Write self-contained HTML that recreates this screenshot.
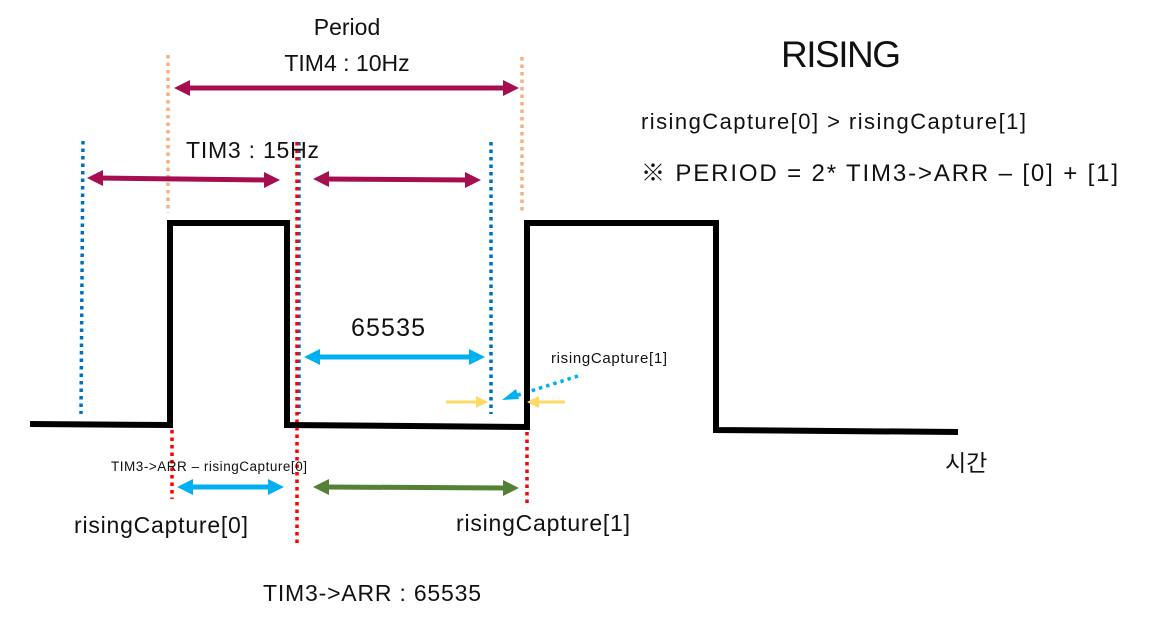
<!DOCTYPE html>
<html><head><meta charset="utf-8"><style>
html,body{margin:0;padding:0;background:#fff;width:1152px;height:624px;overflow:hidden}
svg{display:block}
text{font-family:"Liberation Sans","Noto Sans CJK KR",sans-serif;fill:#111}
</style></head><body>
<svg width="1152" height="624" viewBox="0 0 1152 624" xmlns="http://www.w3.org/2000/svg">
<g fill="none" stroke-width="3.5" stroke-dasharray="3.5 4">
<line x1="168" y1="55" x2="168" y2="213" stroke="#f4b183"/>
<line x1="522" y1="57" x2="522" y2="213" stroke="#f4b183"/>
<line x1="83" y1="141" x2="81" y2="414" stroke="#0070c0"/>
<line x1="299" y1="142" x2="299" y2="414" stroke="#0070c0"/>
<line x1="491" y1="142" x2="491" y2="414" stroke="#0070c0"/>
<line x1="297" y1="142" x2="297" y2="546" stroke="#ff0000"/>
<line x1="172" y1="430" x2="172" y2="499" stroke="#ff0000"/>
<line x1="527" y1="432" x2="527" y2="503" stroke="#ff0000"/>
<line x1="578" y1="376" x2="515" y2="396" stroke="#00b0f0"/>
</g>
<polygon points="502,400 516,389 519,399" fill="#00b0f0"/>
<polyline points="30,424 170,425 170,223 287,223 287,425 527,427 527,223 716,223 716,430 958,432" fill="none" stroke="#000" stroke-width="6" stroke-linejoin="miter"/>
<g fill="#a50f4f" stroke="#a50f4f">
<line x1="185" y1="88" x2="508" y2="88" stroke-width="5"/>
<polygon points="174,88 190,80 190,96" stroke="none"/>
<polygon points="519,88 503,80 503,96" stroke="none"/>
<line x1="98" y1="178" x2="268" y2="180" stroke-width="5"/>
<polygon points="87,178 103,170 103,186" stroke="none"/>
<polygon points="280,180 264,172 264,188" stroke="none"/>
<line x1="325" y1="179" x2="470" y2="180" stroke-width="5"/>
<polygon points="313,179 329,171 329,187" stroke="none"/>
<polygon points="481,180 465,172 465,188" stroke="none"/>
</g>
<g fill="#00b0f0" stroke="#00b0f0">
<line x1="315" y1="357" x2="472" y2="357" stroke-width="5"/>
<polygon points="304,357 320,349 320,365" stroke="none"/>
<polygon points="485,357 469,349 469,365" stroke="none"/>
<line x1="190" y1="487" x2="272" y2="487" stroke-width="5"/>
<polygon points="177,487 193,479 193,495" stroke="none"/>
<polygon points="284,487 268,479 268,495" stroke="none"/>
</g>
<g fill="#548235" stroke="#548235">
<line x1="325" y1="487" x2="506" y2="488" stroke-width="5"/>
<polygon points="313,487 329,479 329,495" stroke="none"/>
<polygon points="519,488 503,480 503,496" stroke="none"/>
</g>
<g fill="#ffd966" stroke="#ffd966">
<line x1="446" y1="402" x2="478" y2="402" stroke-width="3"/>
<polygon points="488,402 476,396 476,408" stroke="none"/>
<line x1="565" y1="402" x2="537" y2="402" stroke-width="3"/>
<polygon points="527,402 539,396 539,408" stroke="none"/>
</g>
<text x="347" y="35" font-size="23" text-anchor="middle">Period</text>
<text x="347" y="71" font-size="23" text-anchor="middle">TIM4 : 10Hz</text>
<text x="186" y="158" font-size="23" textLength="133">TIM3 : 15Hz</text>
<text x="351" y="336" font-size="25" textLength="74">65535</text>
<text x="781" y="67" font-size="37" textLength="120">RISING</text>
<text x="641" y="129" font-size="22" textLength="385">risingCapture[0] &gt; risingCapture[1]</text>
<text x="641" y="181" font-size="24" textLength="477">※ PERIOD = 2* TIM3-&gt;ARR – [0] + [1]</text>
<text x="551" y="363" font-size="15" textLength="116">risingCapture[1]</text>
<text x="111" y="471" font-size="13.5" textLength="196">TIM3-&gt;ARR – risingCapture[0]</text>
<text x="74" y="533" font-size="23" textLength="174">risingCapture[0]</text>
<text x="456" y="531" font-size="23" textLength="174">risingCapture[1]</text>
<text x="263" y="601" font-size="23" textLength="218">TIM3-&gt;ARR : 65535</text>
<text x="945" y="471" font-size="23">시간</text>
</svg>
</body></html>
